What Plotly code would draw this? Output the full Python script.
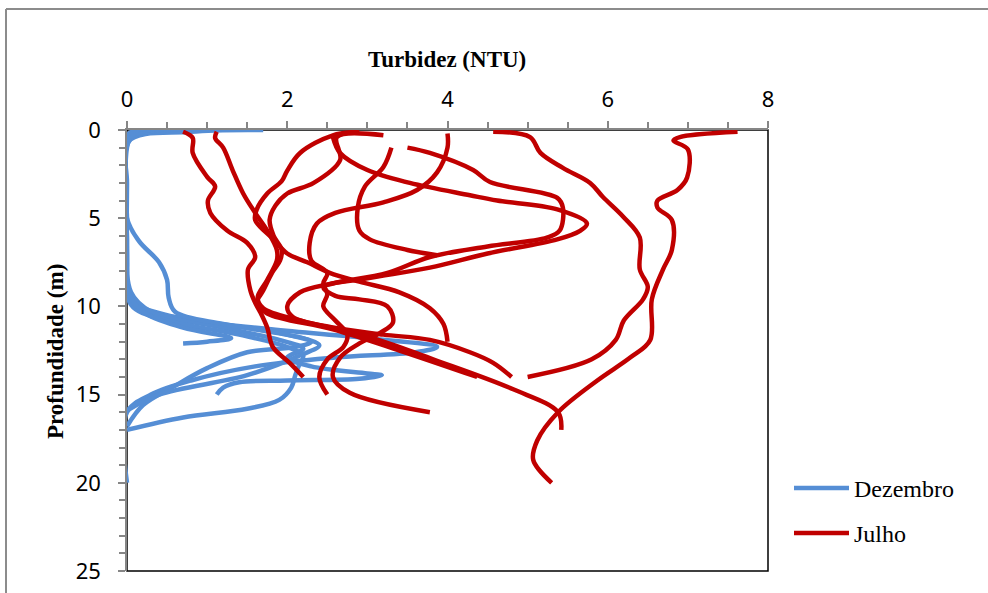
import plotly.graph_objects as go

# ---------------- data (turbidity NTU, depth m) ----------------
dez_1_turb = [0.70, 0.30, 0.00, 0.00, 0.00, 0.05, 0.60, 1.80, 3.00, 3.87, 3.60, 2.60, 1.60, 0.80, 0.30, 0.00, 0.00]
dez_1_depth = [0.0, 0.1, 0.6, 3.0, 7.0, 9.6, 10.6, 11.3, 11.8, 12.3, 12.6, 12.9, 13.4, 14.2, 15.0, 16.0, 20.0]
dez_2_turb = [1.70, 0.80, 0.00, 0.00, 0.00, 0.10, 0.70, 1.60, 2.30, 2.10, 1.50, 1.00, 0.60, 0.20, 0.00]
dez_2_depth = [0.0, 0.1, 0.7, 5.0, 8.5, 10.0, 10.7, 11.3, 12.0, 12.3, 12.6, 13.5, 14.5, 15.6, 16.8]
dez_3_turb = [0.60, 0.10, 0.00, 0.00, 0.05, 0.30, 1.20, 1.90, 2.20, 2.00, 2.30, 3.00, 3.18, 2.90, 2.00, 1.40, 1.20, 1.12]
dez_3_depth = [0.0, 0.3, 0.9, 6.0, 9.2, 10.3, 11.2, 11.9, 12.4, 12.9, 13.4, 13.8, 13.9, 14.1, 14.2, 14.3, 14.6, 15.0]
dez_4_turb = [0.40, 0.05, 0.00, 0.00, 0.05, 0.50, 1.40, 2.00, 2.20, 2.15, 2.10, 2.05, 1.90, 1.50, 0.70, 0.00]
dez_4_depth = [0.0, 0.4, 1.0, 7.5, 9.9, 10.8, 11.6, 12.3, 12.8, 13.3, 13.9, 14.6, 15.3, 15.8, 16.3, 17.0]
dez_5_turb = [0.80, 0.00, 0.00, 0.15, 0.40, 0.50, 0.52, 0.60, 1.20, 2.00, 2.40, 2.20, 1.50, 0.40, 0.00]
dez_5_depth = [0.0, 0.5, 5.0, 6.3, 7.5, 8.5, 9.5, 10.3, 11.0, 11.6, 12.2, 12.7, 13.9, 15.0, 15.9]
dez_6_turb = [0.30, 0.00, 0.00, 0.20, 0.70, 1.30, 1.00, 0.70]
dez_6_depth = [0.0, 0.3, 9.0, 10.3, 11.2, 11.8, 12.0, 12.1]

jul_1_turb = [0.70, 0.82, 0.82, 1.00, 1.10, 1.01, 1.04, 1.25, 1.50, 1.60, 1.51, 1.54, 1.60, 1.66, 1.75, 1.82, 2.03, 2.20]
jul_1_depth = [0.1, 0.45, 1.3, 2.66, 3.2, 4.0, 4.7, 5.7, 6.4, 7.2, 7.9, 9.1, 9.8, 10.3, 11.2, 12.3, 13.2, 14.0]
jul_2_turb = [1.12, 1.10, 1.20, 1.32, 1.45, 1.60, 1.75, 1.87, 1.87, 1.75, 1.63, 1.70, 2.16, 3.00, 3.82, 4.82, 5.38, 5.42]
jul_2_depth = [0.1, 0.45, 1.0, 2.3, 3.6, 4.7, 5.7, 6.8, 7.4, 8.5, 9.5, 10.1, 10.8, 11.7, 13.0, 14.7, 16.0, 17.0]
jul_3_turb = [2.90, 2.57, 2.16, 2.00, 1.93, 1.75, 1.62, 1.60, 1.83, 2.00, 2.25, 2.53, 2.90, 3.40, 3.78, 3.95, 4.00]
jul_3_depth = [0.1, 0.3, 1.3, 2.3, 2.9, 3.6, 4.5, 5.1, 6.2, 7.0, 7.5, 8.1, 8.6, 9.2, 10.1, 11.0, 12.0]
jul_4_turb = [3.20, 2.62, 2.66, 2.33, 2.00, 1.85, 1.78, 1.83, 1.93, 1.91, 1.81, 1.70, 1.62, 1.75, 2.57, 3.40, 4.37]
jul_4_depth = [0.3, 0.4, 1.7, 3.0, 3.6, 4.3, 5.1, 6.0, 6.8, 7.4, 8.1, 9.1, 9.8, 10.4, 11.3, 12.5, 14.0]
jul_5_turb = [4.00, 4.00, 3.87, 3.62, 3.20, 2.60, 2.37, 2.28, 2.30, 2.50, 2.45, 2.50, 2.45, 2.60, 2.75, 2.70, 2.50, 2.40, 2.50]
jul_5_depth = [0.2, 1.0, 2.4, 3.4, 4.1, 4.7, 5.3, 6.4, 7.4, 8.1, 8.7, 9.3, 10.0, 10.8, 11.6, 12.3, 13.0, 14.0, 15.0]
jul_6_turb = [3.30, 3.20, 2.97, 2.88, 2.90, 3.03, 3.50, 3.87]
jul_6_depth = [1.0, 2.1, 3.2, 4.4, 5.7, 6.2, 6.8, 7.1]
jul_7_turb = [3.50, 3.78, 4.32, 4.53, 5.37, 5.44, 5.40, 5.24, 4.50, 3.78, 3.25, 2.57, 2.16, 2.00, 2.07, 2.57, 3.20, 3.78, 4.28, 4.57, 4.80]
jul_7_depth = [1.0, 1.3, 2.27, 2.95, 3.85, 4.4, 5.7, 6.1, 6.6, 7.2, 8.1, 8.7, 9.2, 10.0, 10.6, 11.2, 11.6, 11.9, 12.6, 13.2, 14.0]
jul_8_turb = [2.57, 2.66, 3.00, 3.53, 4.28, 4.62, 5.37, 5.74, 5.66, 5.37, 4.50, 3.78, 3.00, 2.45, 2.60, 2.90, 3.25, 3.32, 3.16, 2.90, 2.66, 2.57, 2.78, 3.78]
jul_8_depth = [0.4, 1.3, 2.27, 3.0, 3.7, 4.0, 4.5, 5.3, 5.7, 6.2, 7.0, 7.8, 8.4, 8.9, 9.4, 9.6, 10.0, 10.9, 11.5, 12.1, 12.9, 14.0, 14.9, 16.0]
jul_9_turb = [4.57, 5.03, 5.16, 5.44, 5.78, 5.94, 6.19, 6.40, 6.40, 6.50, 6.44, 6.20, 6.10, 5.80, 5.00]
jul_9_depth = [0.1, 0.4, 1.3, 2.15, 3.0, 3.8, 4.9, 6.1, 7.9, 8.9, 9.6, 10.8, 11.9, 13.0, 14.0]
jul_10_turb = [7.62, 6.90, 6.82, 7.00, 6.99, 6.87, 6.62, 6.62, 6.80, 6.80, 6.69, 6.55, 6.53, 6.28, 5.87, 5.38, 5.12, 5.07, 5.30]
jul_10_depth = [0.1, 0.4, 0.6, 1.1, 2.7, 3.4, 4.0, 4.4, 5.1, 6.8, 7.9, 9.6, 11.9, 12.9, 14.2, 16.0, 17.6, 18.7, 20.0]

series_names = ["Dezembro", "Julho"]
x_ticks = [0, 2, 4, 6, 8]
y_ticks = [0, 5, 10, 15, 20, 25]

dez_profiles = [(dez_1_turb, dez_1_depth), (dez_2_turb, dez_2_depth), (dez_3_turb, dez_3_depth),
                (dez_4_turb, dez_4_depth), (dez_5_turb, dez_5_depth), (dez_6_turb, dez_6_depth)]
jul_profiles = [(jul_1_turb, jul_1_depth), (jul_2_turb, jul_2_depth), (jul_3_turb, jul_3_depth),
                (jul_4_turb, jul_4_depth), (jul_5_turb, jul_5_depth), (jul_6_turb, jul_6_depth),
                (jul_7_turb, jul_7_depth), (jul_8_turb, jul_8_depth), (jul_9_turb, jul_9_depth),
                (jul_10_turb, jul_10_depth)]

BLUE = "#558ED5"
RED = "#C00000"
AX = "#868686"

fig = go.Figure()
for i, (t, d) in enumerate(dez_profiles):
    fig.add_trace(go.Scatter(x=t, y=d, mode="lines", name=series_names[0],
                             line=dict(color=BLUE, width=4.5, shape="spline", smoothing=1.0),
                             legendgroup="dez", legend="legend", showlegend=(i == 0)))
for i, (t, d) in enumerate(jul_profiles):
    fig.add_trace(go.Scatter(x=t, y=d, mode="lines", name=series_names[1],
                             line=dict(color=RED, width=4.5, shape="spline", smoothing=1.0),
                             legendgroup="jul", legend="legend2", showlegend=(i == 0)))

W, H = 988, 593
L, R, T, B = 127, 220, 130, 22
pw, ph = W - L - R, H - T - B

def px(xp):
    return (xp - L) / pw

def py(yp):
    return (H - B - yp) / ph

fig.update_layout(
    width=W, height=H,
    margin=dict(l=L, r=R, t=T, b=B, autoexpand=False),
    paper_bgcolor="white", plot_bgcolor="white",
    font=dict(family="Noto Sans", size=22, color="black"),
    xaxis=dict(side="top", range=[0, 8], tickvals=x_ticks, ticks="outside", ticklen=7,
               tickcolor=AX, tickwidth=1.5, showline=True, linecolor=AX,
               linewidth=1.5, showgrid=False, zeroline=False, ticklabelstandoff=5,
               layer="below traces", automargin=False,
               minor=dict(dtick=0.5, ticks="outside", ticklen=6, tickcolor=AX, tickwidth=1.5)),
    yaxis=dict(range=[25, 0], tickvals=y_ticks, ticks="outside", ticklen=7,
               tickcolor=AX, tickwidth=1.5, showline=True, linecolor=AX,
               linewidth=1.5, showgrid=False, zeroline=False, ticklabelstandoff=13,
               layer="below traces", automargin=False,
               minor=dict(dtick=1, ticks="outside", ticklen=6, tickcolor=AX, tickwidth=1.5)),
    legend=dict(xref="container", yref="container", x=789 / W, y=1 - 466 / H,
                xanchor="left", yanchor="top",
                font=dict(family="Liberation Serif", size=24, color="black"),
                bgcolor="rgba(0,0,0,0)", itemwidth=55),
    legend2=dict(xref="container", yref="container", x=789 / W, y=1 - 511 / H,
                 xanchor="left", yanchor="top",
                 font=dict(family="Liberation Serif", size=24, color="black"),
                 bgcolor="rgba(0,0,0,0)", itemwidth=55),
    shapes=[
        dict(type="rect", xref="paper", yref="paper", x0=0, x1=1, y0=0, y1=1,
             line=dict(color="black", width=1.5), layer="below"),
        dict(type="line", xref="paper", yref="paper", x0=px(6), x1=px(6), y0=py(9), y1=py(600),
             line=dict(color="#8c8c8c", width=2)),
        dict(type="line", xref="paper", yref="paper", x0=px(6), x1=px(1000), y0=py(9), y1=py(9),
             line=dict(color="#8c8c8c", width=2)),
    ],
    annotations=[
        dict(text="<b>Turbidez (NTU)</b>", xref="paper", yref="paper", x=px(447), y=py(60),
             xanchor="center", yanchor="middle", showarrow=False,
             font=dict(family="Liberation Serif", size=23, color="black")),
        dict(text="<b>Profundidade (m)</b>", xref="paper", yref="paper", x=px(55), y=py(352),
             xanchor="center", yanchor="middle", showarrow=False, textangle=-90,
             font=dict(family="Liberation Serif", size=23, color="black")),
    ],
)

fig.write_html("out.html", config={"displayModeBar": False},
               post_script="document.body.style.margin='0px';")
